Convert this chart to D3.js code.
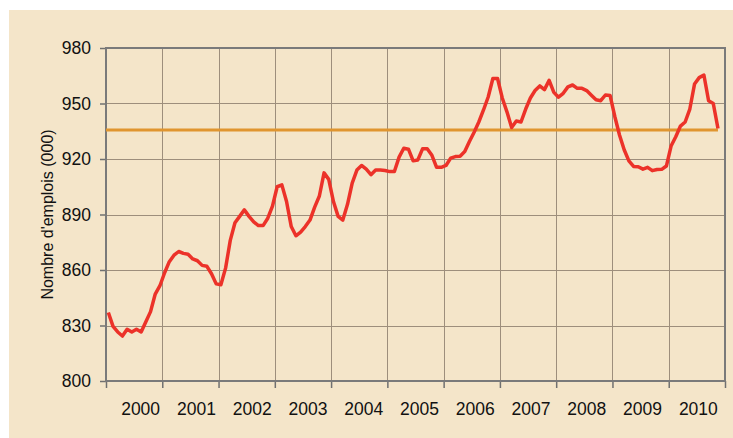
<!DOCTYPE html>
<html>
<head>
<meta charset="utf-8">
<script src="https://cdn.jsdelivr.net/npm/d3@7"></script>
<style>
  html, body { margin: 0; padding: 0; background: #ffffff; }
  svg { display: block; font-family: Arial, "Liberation Sans", sans-serif; }
</style>
</head>
<body>
<div class="chart"></div>
<script>
// ------------------------------------------------------------------
// Data : emplois mensuels (000), janv. 2000 -> nov. 2010
var years = ["2000", "2001", "2002", "2003", "2004", "2005", "2006", "2007", "2008", "2009", "2010"];
var yTicks = [800, 830, 860, 890, 920, 950, 980];
var emplois = [
  837, 829.5, 826.5, 824.3, 828, 826.5, 828, 826.5, 832, 837.5, 847, 851.5,      // 2000
  858.5, 864.5, 868, 870, 869, 868.5, 866, 865, 862.5, 862, 858, 852.5,          // 2001
  852, 861, 876, 885.5, 889, 892.5, 889, 886, 884, 884, 888, 894.5,              // 2002
  905, 906, 897, 883.5, 878.5, 880.5, 883.5, 887, 894, 900, 912.5, 909,          // 2003
  897, 889, 887, 895.5, 907, 914, 916.5, 914.5, 911.5, 914, 914, 913.8,          // 2004
  913.2, 913.2, 921, 925.8, 925.3, 919, 919.5, 925.5, 925.5, 922, 915.5, 915.5,  // 2005
  916.5, 920.5, 921.3, 921.5, 924, 929.5, 934.5, 940, 946.5, 953.5, 963.5, 963.5,// 2006
  953, 945.5, 937, 940.5, 940, 947, 953, 957, 959.5, 957.5, 962.5, 956,          // 2007
  953.4, 955.5, 959, 960, 958.2, 958.2, 957, 954.5, 952, 951.5, 954.6, 954.3,    // 2008
  943, 933, 925, 919, 916, 915.8, 914.5, 915.5, 913.7, 914.3, 914.4, 916.2,      // 2009
  927, 932, 937.8, 940, 947, 960.5, 964, 965.4, 951.5, 950, 936.5                // 2010
];
var moyenne = 935.7;
var nbMois = years.length * 12;

// ------------------------------------------------------------------
var width = 733, height = 438;
var margin = { left: 106, top: 48, right: 8, bottom: 57 };
var plotW = width - margin.left - margin.right;   // 619
var plotH = height - margin.top - margin.bottom;  // 333

var svg = d3.select(".chart").append("svg")
  .attr("width", width)
  .attr("height", height);

// fond beige
svg.append("rect")
  .attr("x", 9).attr("y", 10)
  .attr("width", width - 9).attr("height", height - 10)
  .attr("fill", "#f4e5c9");

var g = svg.append("g")
  .attr("transform", "translate(" + margin.left + "," + margin.top + ")");

var x = d3.scaleLinear().domain([0, nbMois]).range([0, plotW]);
var y = d3.scaleLinear().domain([800, 980]).range([plotH, 0]);

// ------------------------------------------------------------------
// Grille
g.selectAll(".hgrid")
  .data(yTicks.slice(1, -1))
  .enter().append("line")
  .attr("x1", 0).attr("x2", plotW)
  .attr("y1", function(d) { return Math.round(y(d)) + 0.5; })
  .attr("y2", function(d) { return Math.round(y(d)) + 0.5; })
  .attr("stroke", "#9d8e7c").attr("stroke-width", 1);

g.selectAll(".vgrid")
  .data(d3.range(1, years.length))
  .enter().append("line")
  .attr("y1", 0).attr("y2", plotH)
  .attr("x1", function(d) { return Math.round(x(d * 12)) + 0.5; })
  .attr("x2", function(d) { return Math.round(x(d * 12)) + 0.5; })
  .attr("stroke", "#9d8e7c").attr("stroke-width", 1);

// ------------------------------------------------------------------
// Axe Y
var yAxis = g.append("g")
  .call(d3.axisLeft(y).tickValues(yTicks).tickSize(6).tickPadding(9));
yAxis.select(".domain").remove();
yAxis.selectAll(".tick line").attr("stroke", "#707070").attr("stroke-width", 1.5);
yAxis.selectAll("text")
  .attr("font-size", "17.5px").attr("fill", "#111")
  .attr("font-family", "Arial, 'Liberation Sans', sans-serif");

// Axe X (années)
var xAxis = g.append("g")
  .attr("transform", "translate(0," + plotH + ")")
  .call(d3.axisBottom(x).tickValues(d3.range(0, nbMois + 1, 12)).tickSize(7).tickFormat(""));
xAxis.select(".domain").remove();
xAxis.selectAll(".tick line").attr("stroke", "#707070").attr("stroke-width", 1.5);

g.selectAll(".year")
  .data(years)
  .enter().append("text")
  .attr("x", function(d, i) { return x(i * 12 + 6) + 6.5 - i * 0.5; })
  .attr("y", plotH + 34)
  .attr("text-anchor", "middle")
  .attr("font-size", "17.5px")
  .attr("fill", "#111")
  .text(function(d) { return d; });

// Cadre
g.append("rect")
  .attr("x", 0).attr("y", 0)
  .attr("width", plotW).attr("height", plotH)
  .attr("fill", "none")
  .attr("stroke", "#7a7a7a").attr("stroke-width", 2);

// Titre axe Y
svg.append("text")
  .attr("transform", "translate(52.5," + (margin.top + plotH / 2) + ") rotate(-90)")
  .attr("text-anchor", "middle")
  .attr("font-size", "16px")
  .attr("fill", "#111")
  .text("Nombre d'emplois (000)");

// ------------------------------------------------------------------
// Moyenne
g.append("line")
  .attr("x1", x(0)).attr("x2", x(emplois.length - 1 + 0.5))
  .attr("y1", y(moyenne)).attr("y2", y(moyenne))
  .attr("stroke", "#e0952f").attr("stroke-width", 3);

// Série
var line = d3.line()
  .x(function(d, i) { return x(i + 0.5); })
  .y(function(d) { return y(d); });

g.append("path")
  .datum(emplois)
  .attr("d", line)
  .attr("fill", "none")
  .attr("stroke", "#ec3229")
  .attr("stroke-width", 3.5)
  .attr("stroke-linejoin", "round");
</script>
</body>
</html>
